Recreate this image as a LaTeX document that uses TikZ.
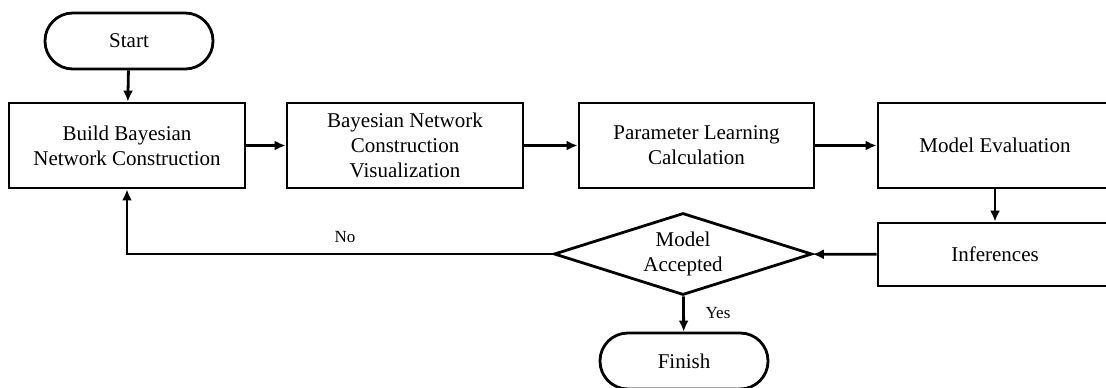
\documentclass[tikz,border=0pt]{standalone}
\RequirePackage{fontspec}
\setmainfont{Liberation Serif}
\RequirePackage{tikz}
\usetikzlibrary{arrows.meta}
\usetikzlibrary{shapes.geometric}

\tikzset{
  stepbox/.style={draw, line width=1.4pt, align=center, inner sep=0pt,
    font=\fontsize{10.5}{12.6}\selectfont},
  termbox/.style={stepbox, rounded corners=13.9pt, minimum width=84pt, minimum height=28pt},
  decbox/.style={stepbox, diamond, aspect=3.15, minimum width=129pt, minimum height=41pt},
  flow/.style={line width=1.4pt, -{Latex[length=5.5pt,width=5pt]}},
  small/.style={font=\fontsize{8.5}{10}\selectfont}
}

\begin{document}
\begin{tikzpicture}[x=0.5pt,y=-0.5pt]
                    \useasboundingbox (0,0) rectangle (1106,387);

                    \node[termbox] (start) at (129,41) {Start};
                    \node[stepbox, minimum width=118pt, minimum height=42.5pt] (build) at (127,145.5) {Build Bayesian\\Network Construction};
                    \node[stepbox, minimum width=118pt, minimum height=42.5pt] (visual) at (405,145.5) {Bayesian Network\\Construction\\Visualization};
                    \node[stepbox, minimum width=117.5pt, minimum height=42.5pt] (param) at (696.5,145.5) {Parameter Learning\\Calculation};
                    \node[stepbox, minimum width=117pt, minimum height=42.5pt] (eval) at (995,145.5) {Model Evaluation};
                    \node[stepbox, minimum width=117pt, minimum height=31.5pt] (infer) at (995,254.5) {Inferences};
                    \node[decbox] (accept) at (683,254) {Model\\Accepted};
                    \node[termbox] (finish) at (684,361) {Finish};

                    \draw[flow] (start) -- (build);
                    \draw[flow] (build) -- (visual);
                    \draw[flow] (visual) -- (param);
                    \draw[flow] (param) -- (eval);
                    \draw[flow] (eval) -- (infer);
                    \draw[flow] (infer) -- (accept);
                    \draw[flow] (accept.west) -| (build.south);
                    \draw[flow] (accept) -- (finish);

                    \node[small] at (345,237) {No};
                    \node[small] at (718,313) {Yes};
                \end{tikzpicture}
\end{document}
